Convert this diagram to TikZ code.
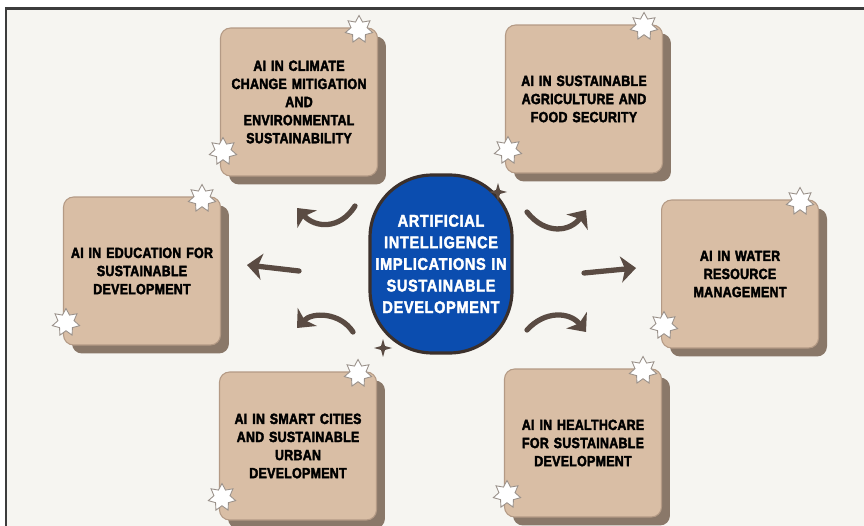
\documentclass[tikz,border=0pt]{standalone}
\usepackage{fontspec}
\newfontfamily\boxfont{Liberation Sans}[UprightFont={* Bold}, FakeStretch=0.84, FakeBold=2.6, LetterSpace=2]
\newfontfamily\hubfont{Liberation Sans}[UprightFont={* Bold}, FakeStretch=0.86, FakeBold=2.2, LetterSpace=4]
\usetikzlibrary{shapes.geometric,shadows,arrows.meta}
\definecolor{paper}{HTML}{F6F5F1}
\definecolor{boxtan}{HTML}{D9BEA5}
\definecolor{boxline}{HTML}{B49A85}
\definecolor{boxshadow}{HTML}{8A7869}
\definecolor{hubblue}{HTML}{0B4DAF}
\definecolor{hubline}{HTML}{3B302C}
\definecolor{arrowbrown}{HTML}{5A4B43}
\definecolor{starline}{HTML}{9A918A}
\definecolor{frameline}{HTML}{3C3C3C}
\begin{document}
\begin{tikzpicture}[x=0.02cm, y=-0.02cm,
topicnode/.style={rectangle, rounded corners=0.2cm, draw=boxline, fill=boxtan, line width=0.6pt, minimum width=3.14cm, minimum height=2.96cm, text width=2.85cm, align=center, font=\boxfont\fontsize{8.4}{10.3}\selectfont, drop shadow={shadow xshift=0.17cm, shadow yshift=-0.17cm, opacity=1, fill=boxshadow}},
hubnode/.style={rectangle, rounded corners=1.25cm, draw=hubline, fill=hubblue, line width=1.8pt, inner sep=0pt, minimum width=2.84cm, minimum height=3.56cm, text width=2.8cm, align=center, text=white, font=\hubfont\fontsize{9.6}{12.3}\selectfont},
starnode/.style={star, star points=7, star point ratio=1.7, draw=starline, fill=white, line width=0.5pt, minimum size=0.56cm, inner sep=0pt},
sparknode/.style={star, star points=4, star point ratio=3.2, fill=arrowbrown, minimum size=0.36cm, inner sep=0pt},
bigarrow/.style={draw=arrowbrown, line width=3pt, line cap=round, -{Stealth[length=0.3cm, width=0.52cm, inset=0.08cm]}},
]
\useasboundingbox (0,0) rectangle (864,526);
\fill[white] (0,0) rectangle (864,526);
\fill[paper] (6,9) rectangle (864,526);
\draw[frameline, line width=0.06cm] (6,526) -- (6,9) -- (864,9);

\node[topicnode] at (299,102) (climate) {AI IN CLIMATE\\ CHANGE MITIGATION\\ AND\\ ENVIRONMENTAL\\ SUSTAINABILITY};
\node[topicnode] at (584,99) (farming) {AI IN SUSTAINABLE\\ AGRICULTURE AND\\ FOOD SECURITY};
\node[topicnode] at (142,271) (education) {AI IN EDUCATION FOR\\ SUSTAINABLE\\ DEVELOPMENT};
\node[topicnode] at (740,274) (water) {AI IN WATER\\ RESOURCE\\ MANAGEMENT};
\node[topicnode] at (298,446) (cities) {AI IN SMART CITIES\\ AND SUSTAINABLE\\ URBAN\\ DEVELOPMENT\\[4pt]};
\node[topicnode] at (583,443) (health) {AI IN HEALTHCARE\\ FOR SUSTAINABLE\\ DEVELOPMENT};

\node[hubnode] at (441,264) (Central) {ARTIFICIAL\\ INTELLIGENCE\\ IMPLICATIONS IN\\ SUSTAINABLE\\ DEVELOPMENT};

% stars on the corners
\node[starnode] at ([shift={(-19,2)}]climate.north east) (climateNE) {};
\node[starnode] at ([shift={(3,-25)}]climate.south west) (climateSW) {};
\node[starnode] at ([shift={(-19,2)}]farming.north east) (farmingNE) {};
\node[starnode] at ([shift={(3,-23)}]farming.south west) (farmingSW) {};
\node[starnode] at ([shift={(-19,2)}]education.north east) (educationNE) {};
\node[starnode] at ([shift={(3,-23)}]education.south west) (educationSW) {};
\node[starnode] at ([shift={(-19,2)}]water.north east) (waterNE) {};
\node[starnode] at ([shift={(3,-23)}]water.south west) (waterSW) {};
\node[starnode] at ([shift={(-19,2)}]cities.north east) (citiesNE) {};
\node[starnode] at ([shift={(3,-23)}]cities.south west) (citiesSW) {};
\node[starnode] at ([shift={(-19,2)}]health.north east) (healthNE) {};
\node[starnode] at ([shift={(3,-23)}]health.south west) (healthSW) {};

\node[sparknode] at (498,192) (sparkNE) {};
\node[sparknode] at (383,348) (sparkSW) {};

% arrows
\coordinate (ulA) at (355,206);
\coordinate (ulB) at (297,208);
\coordinate (lA) at (299,271);
\coordinate (lB) at (247,265);
\coordinate (llA) at (353,332);
\coordinate (llB) at (297,328);
\coordinate (urA) at (527,212);
\coordinate (urB) at (586,210);
\coordinate (rA) at (584,273);
\coordinate (rB) at (636,268);
\coordinate (lrA) at (527,330);
\coordinate (lrB) at (586,332);

\draw[bigarrow] (ulA) .. controls (340,230) and (315,228) .. (ulB);
\draw[bigarrow] (lA) -- (lB);
\draw[bigarrow] (llA) .. controls (340,312) and (312,312) .. (llB);
\draw[bigarrow] (urA) .. controls (545,235) and (570,232) .. (urB);
\draw[bigarrow] (rA) -- (rB);
\draw[bigarrow] (lrA) .. controls (545,310) and (570,312) .. (lrB);

\end{tikzpicture}
\end{document}
